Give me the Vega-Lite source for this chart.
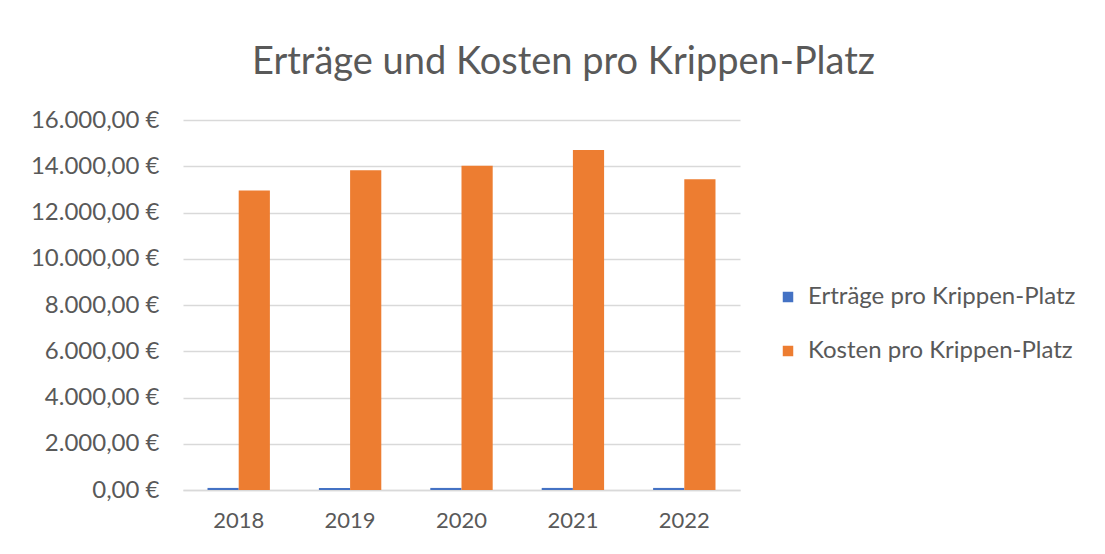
{
  "$schema": "https://vega.github.io/schema/vega-lite/v6.json",
  "autosize": {"type": "none"},
  "width": 557,
  "height": 370,
  "padding": {"left": 183, "top": 120, "right": 365, "bottom": 64},
  "background": "white",
  "title": {
    "text": "Erträge und Kosten pro Krippen-Platz",
    "font": "Lato",
    "fontSize": 38,
    "fontWeight": "normal",
    "color": "#595959",
    "anchor": "middle",
    "dx": 102,
    "offset": 26
  },
  "data": {
    "values": [
      {"Jahr": "2018", "Reihe": "Erträge pro Krippen-Platz", "Wert": 90},
      {"Jahr": "2018", "Reihe": "Kosten pro Krippen-Platz", "Wert": 12950},
      {"Jahr": "2019", "Reihe": "Erträge pro Krippen-Platz", "Wert": 90},
      {"Jahr": "2019", "Reihe": "Kosten pro Krippen-Platz", "Wert": 13825},
      {"Jahr": "2020", "Reihe": "Erträge pro Krippen-Platz", "Wert": 90},
      {"Jahr": "2020", "Reihe": "Kosten pro Krippen-Platz", "Wert": 14025},
      {"Jahr": "2021", "Reihe": "Erträge pro Krippen-Platz", "Wert": 90},
      {"Jahr": "2021", "Reihe": "Kosten pro Krippen-Platz", "Wert": 14700},
      {"Jahr": "2022", "Reihe": "Erträge pro Krippen-Platz", "Wert": 90},
      {"Jahr": "2022", "Reihe": "Kosten pro Krippen-Platz", "Wert": 13435}
    ]
  },
  "mark": {"type": "bar"},
  "encoding": {
    "x": {
      "field": "Jahr",
      "type": "nominal",
      "title": null,
      "scale": {"paddingInner": 0.44, "paddingOuter": 0.22},
      "axis": {
        "labelAngle": 0,
        "labelFont": "Lato",
        "labelFontSize": 22,
        "labelColor": "#595959",
        "labelPadding": 20,
        "ticks": false,
        "domainColor": "#d9d9d9",
        "domainWidth": 1.5,
        "grid": false
      }
    },
    "xOffset": {"field": "Reihe", "type": "nominal", "scale": {"paddingInner": 0, "paddingOuter": 0}},
    "y": {
      "field": "Wert",
      "type": "quantitative",
      "title": null,
      "scale": {"domain": [0, 16000]},
      "axis": {
        "values": [0, 2000, 4000, 6000, 8000, 10000, 12000, 14000, 16000],
        "labelExpr": "replace(replace(replace(format(datum.value, ',.2f'), ',', '#'), '.', ','), '#', '.') + ' €'",
        "labelFont": "Lato",
        "labelFontSize": 24,
        "labelColor": "#595959",
        "labelPadding": 24,
        "ticks": false,
        "domain": false,
        "gridColor": "#d9d9d9",
        "gridWidth": 1.5
      }
    },
    "color": {
      "field": "Reihe",
      "type": "nominal",
      "title": null,
      "scale": {
        "domain": ["Erträge pro Krippen-Platz", "Kosten pro Krippen-Platz"],
        "range": ["#4472C4", "#ED7D31"]
      },
      "legend": {
        "orient": "none",
        "legendX": 593,
        "legendY": 165,
        "symbolType": "square",
        "symbolSize": 110,
        "symbolStrokeWidth": 0,
        "labelFont": "Lato",
        "labelFontSize": 24,
        "labelColor": "#595959",
        "rowPadding": 30,
        "labelOffset": 8,
        "labelLimit": 400
      }
    }
  },
  "config": {
    "view": {"stroke": null}
  }
}
